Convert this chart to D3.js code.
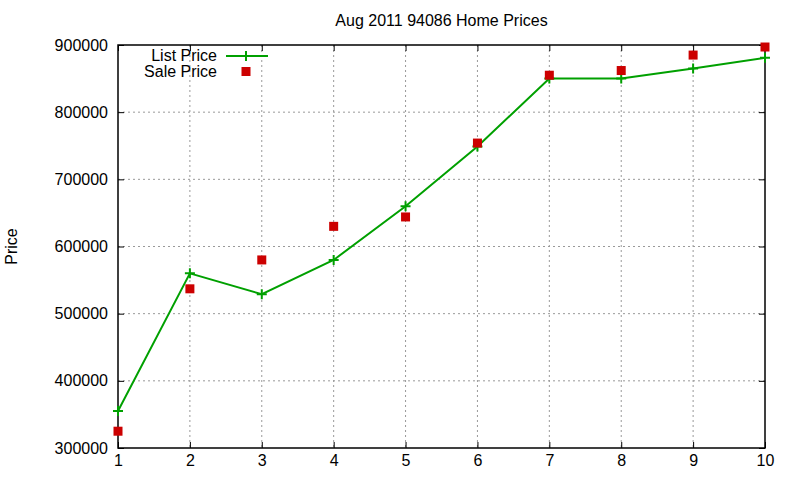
<!DOCTYPE html>
<html>
<head>
<meta charset="utf-8">
<script src="https://cdn.jsdelivr.net/npm/d3@7"></script>
<style>
  body { margin: 0; background: #fff; }
  text { font-family: "Liberation Sans", Arial, sans-serif; fill: #000; }
</style>
</head>
<body>
<div id="chart"></div>
<script>
// data
var months = [1, 2, 3, 4, 5, 6, 7, 8, 9, 10];
var listPrice = [355000, 560000, 529000, 580000, 660000, 749000, 850000, 850000, 865000, 881000];
var salePrice = [325000, 537000, 580000, 630000, 644000, 754000, 855000, 862000, 885000, 897000];
var yTicks = [300000, 400000, 500000, 600000, 700000, 800000, 900000];

var width = 800, height = 480;
var margin = {top: 45, right: 35, bottom: 32, left: 118};
var w = width - margin.left - margin.right,
    h = height - margin.top - margin.bottom;

var green = "#00a000", red = "#cc0000";

var x = d3.scaleLinear().domain([1, 10]).range([0, w]);
var y = d3.scaleLinear().domain([300000, 900000]).range([h, 0]);

var svg = d3.select("#chart").append("svg")
    .attr("width", width)
    .attr("height", height);

svg.append("text")
    .attr("x", margin.left + w / 2)
    .attr("y", 26)
    .attr("text-anchor", "middle")
    .style("font-size", "16px")
    .text("Aug 2011 94086 Home Prices");

svg.append("text")
    .attr("transform", "translate(17," + (margin.top + h / 2) + ") rotate(-90)")
    .attr("text-anchor", "middle")
    .style("font-size", "16px")
    .text("Price");

var g = svg.append("g")
    .attr("transform", "translate(" + margin.left + "," + margin.top + ")");

// grid
g.append("g").selectAll("line.gx")
    .data(months.slice(1, -1))
  .enter().append("line")
    .attr("x1", function(d) { return x(d); })
    .attr("x2", function(d) { return x(d); })
    .attr("y1", 0).attr("y2", h)
    .attr("stroke", "#999").attr("stroke-dasharray", "2,3");

g.append("g").selectAll("line.gy")
    .data(yTicks.slice(1, -1))
  .enter().append("line")
    .attr("y1", function(d) { return y(d); })
    .attr("y2", function(d) { return y(d); })
    .attr("x1", 0).attr("x2", w)
    .attr("stroke", "#999").attr("stroke-dasharray", "2,3");

// axes (ticks inward, mirrored)
var xAxis = d3.axisBottom(x).tickValues(months).tickSizeInner(-6).tickSizeOuter(0).tickPadding(10);
var yAxis = d3.axisLeft(y).tickValues(yTicks).tickSizeInner(-6).tickSizeOuter(0).tickPadding(10).tickFormat(d3.format("d"));

var xa = g.append("g").attr("transform", "translate(0," + h + ")").call(xAxis);
var ya = g.append("g").call(yAxis);
g.append("g").call(d3.axisTop(x).tickValues(months).tickSizeInner(-6).tickSizeOuter(0).tickFormat(""));
g.append("g").attr("transform", "translate(" + w + ",0)")
    .call(d3.axisRight(y).tickValues(yTicks).tickSizeInner(-6).tickSizeOuter(0).tickFormat(""));

g.selectAll(".domain").remove();
g.selectAll(".tick line").attr("stroke", "#000");
xa.selectAll("text").style("font-size", "16px").attr("dy", "0.71em").attr("y", 7);
ya.selectAll("text").style("font-size", "16px");

g.append("rect")
    .attr("width", w).attr("height", h)
    .attr("fill", "none").attr("stroke", "#000").attr("stroke-width", 1.5);

// list price line
var line = d3.line()
    .x(function(d, i) { return x(months[i]); })
    .y(function(d) { return y(d); });

g.append("path")
    .datum(listPrice)
    .attr("d", line)
    .attr("fill", "none")
    .attr("stroke", green)
    .attr("stroke-width", 2);

function plus(sel, cx, cy) {
  sel.append("path")
    .attr("d", "M" + (cx - 5) + "," + cy + "H" + (cx + 5) + "M" + cx + "," + (cy - 5) + "V" + (cy + 5))
    .attr("stroke", green).attr("stroke-width", 2);
}

listPrice.forEach(function(d, i) { plus(g, x(months[i]), y(d)); });

// sale price squares
g.selectAll(".sale")
    .data(salePrice)
  .enter().append("rect")
    .attr("class", "sale")
    .attr("x", function(d, i) { return x(months[i]) - 4.5; })
    .attr("y", function(d) { return y(d) - 4.5; })
    .attr("width", 9).attr("height", 9)
    .attr("fill", red);

// legend
var lg = svg.append("g");
lg.append("text").attr("x", 217).attr("y", 61).attr("text-anchor", "end")
    .style("font-size", "16px").text("List Price");
lg.append("line").attr("x1", 226).attr("x2", 268).attr("y1", 56).attr("y2", 56)
    .attr("stroke", green).attr("stroke-width", 2);
plus(lg, 246, 56);
lg.append("text").attr("x", 217).attr("y", 77).attr("text-anchor", "end")
    .style("font-size", "16px").text("Sale Price");
lg.append("rect").attr("x", 241.5).attr("y", 67).attr("width", 9).attr("height", 9).attr("fill", red);
</script>
</body>
</html>
